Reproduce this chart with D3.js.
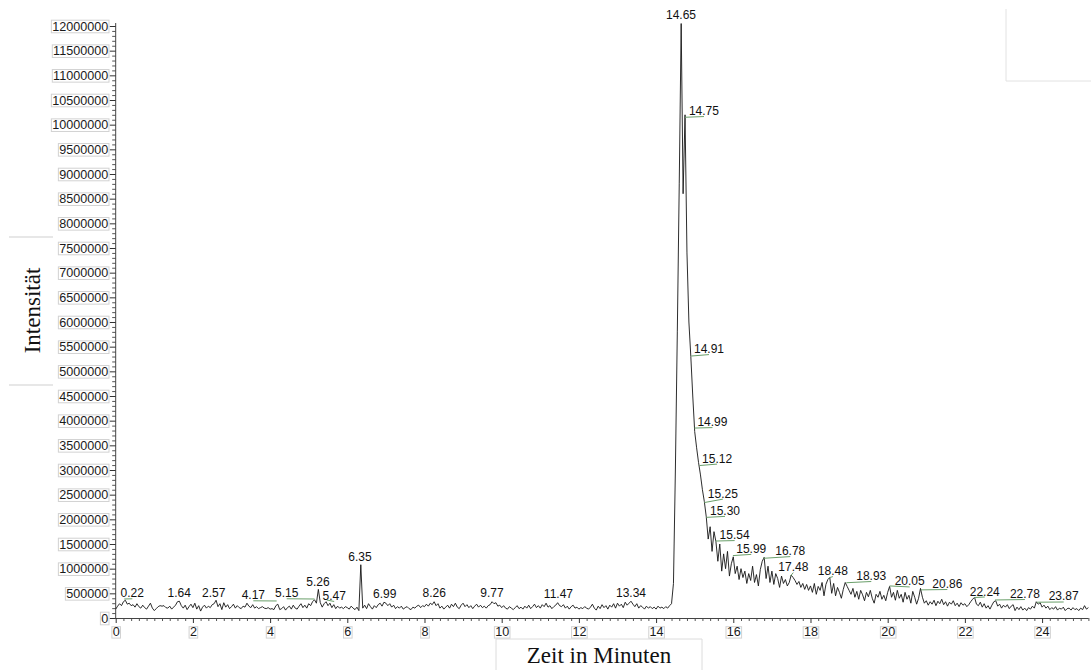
<!DOCTYPE html>
<html><head><meta charset="utf-8">
<script src="https://cdn.jsdelivr.net/npm/d3@7"></script>
<style>body{margin:0;background:#fff}svg{display:block}</style>
</head><body>
<svg id="c" width="1091" height="670"></svg>
<script>
// ---- data ----
const timeStart = 0;      // minutes
const timeStep = 0.05;    // minutes between samples
const intensity = [
// 0.00-0.95
180e3,240e3,290e3,250e3,330e3,360e3,280e3,300e3,250e3,270e3,220e3,290e3,230e3,200e3,260e3,210e3,180e3,240e3,300e3,200e3,
// 1.00-1.95
150e3,190e3,230e3,250e3,240e3,250e3,210e3,200e3,240e3,180e3,220e3,260e3,330e3,340e3,250e3,200e3,260e3,170e3,230e3,280e3,
// 2.00-2.95
210e3,300e3,180e3,250e3,140e3,220e3,260e3,200e3,240e3,210e3,270e3,290e3,360e3,230e3,290e3,170e3,310e3,220e3,270e3,190e3,
// 3.00-3.95
230e3,280e3,200e3,250e3,210e3,190e3,240e3,220e3,300e3,240e3,210e3,270e3,200e3,230e3,190e3,210e3,230e3,200e3,190e3,210e3,
// 4.00-4.95
180e3,190e3,170e3,250e3,280e3,170e3,190e3,230e3,160e3,210e3,240e3,180e3,260e3,200e3,180e3,240e3,290e3,210e3,260e3,200e3,
// 5.00-5.95
290e3,250e3,330e3,370e3,300e3,580e3,310e3,220e3,290e3,330e3,250e3,300e3,210e3,270e3,190e3,240e3,200e3,220e3,190e3,230e3,
// 6.00-6.95
210e3,180e3,240e3,200e3,170e3,220e3,150e3,1080e3,200e3,260e3,190e3,290e3,230e3,180e3,250e3,210e3,270e3,300e3,240e3,320e3,
// 7.00-7.95
300e3,250e3,290e3,220e3,260e3,190e3,230e3,200e3,240e3,180e3,210e3,230e3,190e3,170e3,220e3,200e3,240e3,260e3,210e3,250e3,
// 8.00-8.95
230e3,280e3,240e3,300e3,270e3,330e3,250e3,290e3,200e3,240e3,180e3,220e3,260e3,200e3,280e3,230e3,300e3,220e3,190e3,260e3,
// 9.00-9.95
300e3,230e3,270e3,210e3,250e3,190e3,240e3,280e3,220e3,260e3,210e3,240e3,200e3,250e3,270e3,330e3,290e3,310e3,240e3,260e3,
// 10.00-10.95
210e3,250e3,200e3,180e3,230e3,200e3,170e3,210e3,250e3,190e3,220e3,180e3,240e3,200e3,260e3,190e3,230e3,280e3,210e3,250e3,
// 11.00-11.95
200e3,270e3,230e3,300e3,220e3,250e3,190e3,230e3,260e3,310e3,250e3,230e3,270e3,200e3,240e3,180e3,230e3,260e3,200e3,220e3,
// 12.00-12.95
180e3,210e3,190e3,230e3,200e3,180e3,220e3,280e3,200e3,160e3,240e3,190e3,270e3,210e3,250e3,180e3,260e3,220e3,290e3,200e3,
// 13.00-13.95
300e3,240e3,280e3,210e3,320e3,260e3,300e3,340e3,280e3,230e3,290e3,200e3,250e3,220e3,180e3,240e3,200e3,230e3,190e3,220e3,
// 14.00-14.95
180e3,240e3,200e3,220e3,190e3,230e3,200e3,250e3,290e3,700e3,3000e3,5800e3,8800e3,12050e3,8600e3,10200e3,7400e3,6000e3,5300e3,4500e3,
// 15.00-15.95
3780e3,3450e3,3150e3,2900e3,2600e3,2360e3,2050e3,1600e3,1850e3,1350e3,1750e3,1550e3,1150e3,1500e3,950e3,1300e3,1000e3,1350e3,850e3,1100e3,
// 16.00-16.95
1240e3,900e3,1050e3,780e3,1000e3,820e3,950e3,700e3,900e3,760e3,1050e3,720e3,880e3,650e3,980e3,1150e3,1230e3,800e3,1050e3,720e3,
// 17.00-17.95
950e3,680e3,900e3,800e3,620e3,850e3,700e3,780e3,650e3,720e3,870e3,820e3,760e3,680e3,740e3,620e3,700e3,580e3,680e3,560e3,
// 18.00-18.95
650e3,520e3,700e3,480e3,640e3,560e3,720e3,450e3,680e3,780e3,820e3,500e3,700e3,450e3,620e3,520e3,400e3,580e3,720e3,640e3,
// 19.00-19.95
560e3,480e3,600e3,420e3,540e3,380e3,560e3,470e3,350e3,520e3,430e3,560e3,400e3,300e3,480e3,420e3,540e3,380e3,460e3,350e3,
// 20.00-20.95
520e3,640e3,420e3,520e3,360e3,560e3,400e3,480e3,320e3,520e3,380e3,460e3,300e3,540e3,420e3,280e3,400e3,600e3,420e3,300e3,
// 21.00-21.95
350e3,260e3,330e3,280e3,360e3,250e3,340e3,290e3,380e3,270e3,330e3,240e3,320e3,280e3,350e3,250e3,300e3,230e3,310e3,260e3,
// 22.00-22.95
290e3,230e3,270e3,330e3,380e3,420e3,280e3,250e3,320e3,220e3,290e3,200e3,250e3,180e3,260e3,330e3,350e3,240e3,280e3,200e3,
// 23.00-23.95
260e3,220e3,270e3,190e3,240e3,270e3,150e3,220e3,170e3,230e3,160e3,200e3,150e3,210e3,180e3,240e3,200e3,330e3,280e3,310e3,
// 24.00-24.95
220e3,260e3,200e3,240e3,170e3,210e3,180e3,230e3,160e3,200e3,180e3,220e3,150e3,190e3,200e3,160e3,210e3,170e3,190e3,150e3,
// 25.00-25.20
200e3,170e3,250e3,180e3,210e3
];

const xTickValues = [0, 2, 4, 6, 8, 10, 12, 14, 16, 18, 20, 22, 24];
const yTickValues = [0, 500000, 1000000, 1500000, 2000000, 2500000, 3000000, 3500000, 4000000,
  4500000, 5000000, 5500000, 6000000, 6500000, 7000000, 7500000, 8000000, 8500000, 9000000,
  9500000, 10000000, 10500000, 11000000, 11500000, 12000000];

// peak annotations: label, where the label text sits (time, intensity),
// and the intensity of the peak apex the green leader points to (null = no leader)
const peakLabels  = ["0.22","1.64","2.57","4.17","5.15","5.26","5.47","6.35","6.99","8.26","9.77","11.47","13.34",
  "14.65","14.75","14.91","14.99","15.12","15.25","15.30","15.54","15.99","16.78","17.48","18.48","18.93",
  "20.05","20.86","22.24","22.78","23.87"];
const labelTimes  = [0.43,1.645,2.54,3.565,4.43,5.24,5.66,6.33,6.97,8.25,9.75,11.47,13.35,
  14.645,15.24,15.37,15.46,15.58,15.73,15.785,16.035,16.465,17.475,17.555,18.58,19.575,
  20.57,21.545,22.515,23.555,24.56];
const labelLevels = [420e3,420e3,432e3,379e3,420e3,655e3,365e3,1160e3,405e3,432e3,420e3,411e3,432e3,
  12140e3,10195e3,5370e3,3890e3,3150e3,2440e3,2090e3,1600e3,1320e3,1275e3,950e3,870e3,770e3,
  660e3,608e3,456e3,405e3,355e3];
const peakLevels  = [385e3,null,null,345e3,385e3,null,365e3,null,null,null,null,null,null,
  null,10150e3,5310e3,3850e3,3090e3,2340e3,2040e3,1560e3,1265e3,1210e3,850e3,815e3,715e3,
  650e3,570e3,415e3,365e3,320e3];

const xTitle = "Zeit in Minuten";
const yTitle = "Intensität";

// ---- drawing ----
const svg = d3.select("#c");
const x = d3.scaleLinear().domain([0, 25.2]).range([115.7, 1088.4]);
const y = d3.scaleLinear().domain([0, 12000000]).range([618, 26]);

const sans = "Arial, 'Liberation Sans', sans-serif";
const serif = "'Times New Roman', 'Liberation Serif', serif";
const boxStroke = "#d2d2d2";

// decorative frames
svg.append("path").attr("d", "M1006,9V81H1091").attr("fill", "none").attr("stroke", "#e2e2e2");
svg.append("path").attr("d", "M496,670V639H702V670").attr("fill", "none").attr("stroke", "#dcdcdc");
svg.append("path").attr("d", "M9,237H53M9,385H53").attr("fill", "none").attr("stroke", "#cfcfcf");

// minor ticks
const yMinor = d3.range(0, 12000001, 100000).filter(v => v % 500000 !== 0);
svg.append("g").attr("transform", "translate(115.7,0)")
  .call(d3.axisLeft(y).tickValues(yMinor).tickSize(3.5).tickFormat("").tickSizeOuter(0))
  .call(g => g.select(".domain").remove())
  .selectAll("line").attr("stroke", "#555");
const xMinor = d3.range(0, 25.21, 0.2).filter(v => Math.abs(v / 2 - Math.round(v / 2)) > 1e-6);
svg.append("g").attr("transform", "translate(0,618)")
  .call(d3.axisBottom(x).tickValues(xMinor).tickSize(3).tickFormat("").tickSizeOuter(0))
  .call(g => g.select(".domain").remove())
  .selectAll("line").attr("stroke", "#555");

// y axis
const gy = svg.append("g").attr("transform", "translate(115.7,0)")
  .call(d3.axisLeft(y).tickValues(yTickValues).tickSize(6).tickPadding(1.5)
    .tickFormat(d3.format("d")).tickSizeOuter(0));
gy.select(".domain").attr("d", "M0,618.5V23").attr("stroke", "#444");
gy.selectAll("line").attr("stroke", "#333");
gy.selectAll("text").attr("font-family", sans).attr("font-size", 12.6).attr("fill", "#1a1a1a");

// x axis
const gx = svg.append("g").attr("transform", "translate(0,618)")
  .call(d3.axisBottom(x).tickValues(xTickValues).tickSize(5).tickPadding(4.5)
    .tickFormat(d3.format("d")).tickSizeOuter(0));
gx.select(".domain").attr("d", "M115.2,0.5H1088.5").attr("stroke", "#444");
gx.selectAll("line").attr("stroke", "#333");
gx.selectAll("text").attr("font-family", sans).attr("font-size", 12.6).attr("fill", "#1a1a1a");

// boxes around tick labels
gy.selectAll(".tick").each(function() {
  const t = d3.select(this).select("text");
  const b = t.node().getBBox();
  d3.select(this).insert("rect", "text")
    .attr("x", b.x - 0.8).attr("y", -6.3).attr("width", b.width + 1.6).attr("height", 12.6)
    .attr("fill", "none").attr("stroke", boxStroke);
});
gx.selectAll(".tick").each(function() {
  const t = d3.select(this).select("text");
  const b = t.node().getBBox();
  d3.select(this).insert("rect", "text")
    .attr("x", b.x - 0.8).attr("y", 8.7).attr("width", b.width + 1.6).attr("height", 11.4)
    .attr("fill", "none").attr("stroke", boxStroke);
});

// trace
const pts = intensity.map((v, i) => [timeStart + i * timeStep, v]);
svg.append("path").datum(pts)
  .attr("d", d3.line().x(d => x(d[0])).y(d => y(d[1])))
  .attr("fill", "none").attr("stroke", "#151515").attr("stroke-width", 0.9);

// peak labels
const ann = svg.append("g");
peakLabels.forEach((lab, i) => {
  if (peakLevels[i] !== null) {
    ann.append("line")
      .attr("x1", x(+lab)).attr("y1", y(peakLevels[i]))
      .attr("x2", x(labelTimes[i])).attr("y2", y(labelLevels[i]) + 1.5)
      .attr("stroke", "#6a9f6a").attr("stroke-width", 1);
  }
  ann.append("text")
    .attr("x", x(labelTimes[i])).attr("y", y(labelLevels[i]))
    .attr("text-anchor", "middle").attr("font-family", sans).attr("font-size", 12)
    .attr("fill", "#111").text(lab);
});

// axis titles
svg.append("text").attr("x", 599).attr("y", 663).attr("text-anchor", "middle")
  .attr("font-family", serif).attr("font-size", 23).attr("fill", "#111").text(xTitle);
svg.append("text").attr("transform", "translate(40,310.5) rotate(-90)").attr("text-anchor", "middle")
  .attr("font-family", serif).attr("font-size", 23).attr("fill", "#111").text(yTitle);
</script>
</body></html>
